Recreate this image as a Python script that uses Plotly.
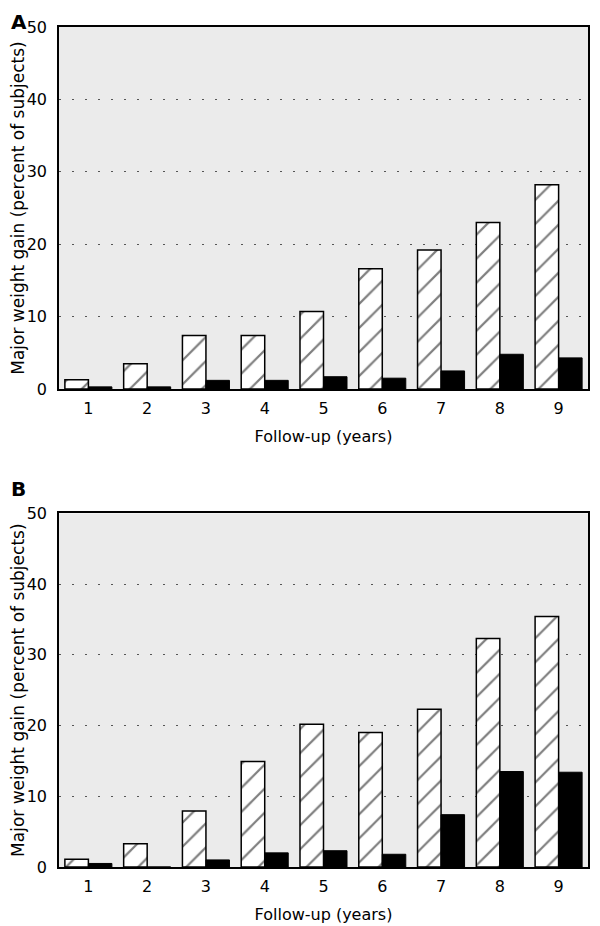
import plotly.graph_objects as go
from plotly.subplots import make_subplots

years = [1, 2, 3, 4, 5, 6, 7, 8, 9]
a_hatched = [1.3, 3.5, 7.4, 7.4, 10.7, 16.6, 19.2, 23.0, 28.2]
a_black = [0.3, 0.3, 1.2, 1.2, 1.7, 1.5, 2.5, 4.8, 4.3]
b_hatched = [1.1, 3.3, 7.9, 14.9, 20.2, 19.0, 22.3, 32.3, 35.4]
b_black = [0.5, 0.0, 1.0, 2.0, 2.3, 1.8, 7.4, 13.5, 13.4]

FONT = "DejaVu Sans, Arial, sans-serif"

fig = make_subplots(rows=2, cols=1, vertical_spacing=0.15)

for row, (hatched, black) in enumerate([(a_hatched, a_black), (b_hatched, b_black)], start=1):
    fig.add_trace(go.Bar(x=years, y=hatched,
                         marker=dict(color="white",
                                     line=dict(color="black", width=1.5),
                                     pattern=dict(shape="/", fgcolor="black", bgcolor="white",
                                                  size=17, solidity=0.13)),
                         showlegend=False), row=row, col=1)
    fig.add_trace(go.Bar(x=years, y=black,
                         marker=dict(color="black", line=dict(color="black", width=1)),
                         showlegend=False), row=row, col=1)

# page body has an 8px margin, so the figure is a bit smaller than the window
fig.update_layout(
    width=592, height=918,
    margin=dict(l=51, r=12, t=19, b=59),
    barmode="group", bargap=0.2, bargroupgap=0,
    plot_bgcolor="#ebebeb", paper_bgcolor="white",
    font=dict(family=FONT, size=16, color="black"),
)
fig.update_yaxes(range=[0, 50], dtick=10, showgrid=True, gridcolor="#555555",
                 griddash="2px,11px", gridwidth=1.3, zeroline=False,
                 showline=True, linecolor="black", linewidth=1.5, mirror=True,
                 ticks="", ticklabelstandoff=7, automargin=False,
                 title=dict(text="Major weight gain (percent of subjects)", standoff=7,
                            font=dict(size=17)))
fig.update_xaxes(range=[0.5, 9.5], tickvals=years, showgrid=False, zeroline=False,
                 showline=True, linecolor="black", linewidth=1.5, mirror=True,
                 ticks="", ticklabelstandoff=4, automargin=False,
                 title=dict(text="Follow-up (years)", standoff=14, font=dict(size=16)))
fig.update_yaxes(domain=[0.569, 1.0], row=1, col=1)
fig.update_yaxes(domain=[0.0, 0.421], row=2, col=1)

# panel letters
fig.add_annotation(text="<b>A</b>", xref="paper", yref="paper", x=-0.095, y=1.0226,
                   xanchor="left", yanchor="top", showarrow=False,
                   font=dict(size=20, family=FONT))
fig.add_annotation(text="<b>B</b>", xref="paper", yref="paper", x=-0.095, y=0.433,
                   xanchor="left", yanchor="bottom", showarrow=False,
                   font=dict(size=20, family=FONT))

fig.write_html("out.html")
